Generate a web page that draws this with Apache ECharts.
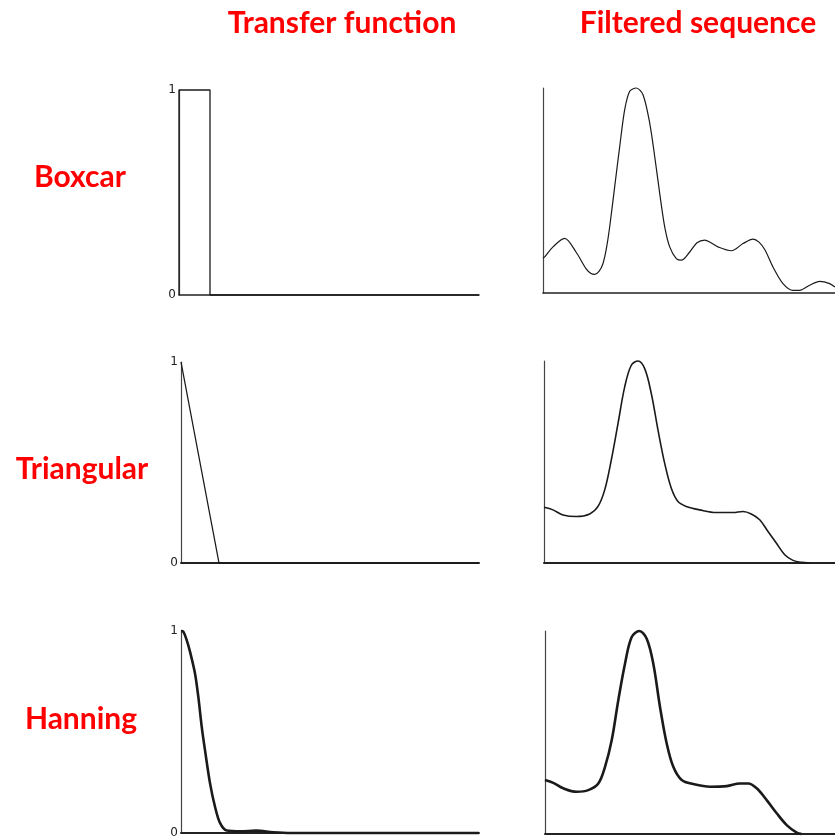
<!DOCTYPE html>
<html>
<head>
<meta charset="utf-8">
<script src="https://cdn.jsdelivr.net/npm/echarts@6/dist/echarts.min.js"></script>
<style>
html,body{margin:0;padding:0;background:#fff;}
#chart{width:835px;height:840px;}
</style>
</head>
<body>
<div id="chart"></div>
<script>
// Column and row headings
const columnTitles = ['Transfer function', 'Filtered sequence'];
const rowTitles = ['Boxcar', 'Triangular', 'Hanning'];
const yTickValues = [0, 1];

// Transfer functions: [frequency index, gain]
const boxcarTF = [[0,0],[0,1],[31,1],[31,0],[300,0]];
const triangularTF = [[0,1],[38,0],[298,0]];
const hanningTF = [[0,1],[2.3,0.997],[5.7,0.955],[9,0.898],[14,0.79],[17.3,0.675],[20.7,0.527],[24,0.41],[29,0.247],[34,0.13],[39,0.05],[45.7,0.012],[60,0.008],[75,0.012],[92,0.004],[110,0],[298,0]];

// Filtered sequences: [position, relative amplitude]
const boxcarSeq = [[0,0.17],[1.7,0.176],[10,0.225],[21.7,0.266],[33,0.2],[43,0.119],[48,0.095],[51.7,0.091],[56,0.105],[60,0.144],[63.5,0.22],[66.7,0.323],[71.7,0.519],[76.7,0.714],[81.7,0.894],[86.7,0.984],[93.3,1.0],[100,0.967],[106.7,0.829],[111.7,0.666],[116.7,0.486],[121.7,0.323],[126.7,0.225],[133.3,0.168],[138.3,0.16],[146.7,0.2],[154,0.245],[161.7,0.258],[168,0.245],[175,0.225],[188.3,0.206],[200,0.241],[210,0.263],[216,0.248],[222,0.21],[230,0.127],[240,0.046],[250,0.013],[256.7,0.013],[266.7,0.038],[276.7,0.057],[286.7,0.046],[292,0.029]];
const triangularSeq = [[0,0.276],[9,0.263],[19,0.238],[32.3,0.23],[45.7,0.243],[54,0.28],[60.7,0.362],[67.3,0.51],[74,0.69],[80.7,0.872],[87.3,0.979],[94,1.0],[100.7,0.962],[107.3,0.839],[114,0.658],[120.7,0.493],[127.3,0.37],[134,0.304],[142.3,0.28],[155.7,0.263],[172.3,0.25],[189,0.25],[199,0.255],[207.3,0.243],[215.7,0.214],[224,0.156],[232.3,0.099],[240.7,0.041],[249,0.013],[257.3,0.003],[265.7,0]];
const hanningSeq = [[0,0.266],[8.3,0.252],[18.3,0.225],[31.7,0.208],[43.3,0.216],[53.3,0.249],[60,0.331],[66.7,0.462],[73.3,0.659],[80,0.839],[86.7,0.97],[94.3,1.0],[101.7,0.962],[108.3,0.839],[115,0.626],[121.7,0.446],[128.3,0.331],[136.7,0.266],[148.3,0.246],[165,0.233],[181.7,0.236],[195,0.249],[203.3,0.249],[211.7,0.225],[221.7,0.167],[231.7,0.102],[241.7,0.044],[251.7,0.007],[256.7,0]];

const chart = echarts.init(document.getElementById('chart'), null, {renderer:'canvas'});

const grids = [
  {left:179, top:90, width:300, height:205},
  {left:181, top:362, width:298, height:201},
  {left:181, top:631, width:298, height:202},
  {left:543, top:88, width:295, height:205},
  {left:544, top:361, width:294, height:202},
  {left:545, top:631, width:293, height:203}
];
const xMax = [300, 298, 298, 292, 291, 290];
const lineW = [1.3, 1.3, 2.6, 1.2, 1.6, 2.6];
const seriesData = [boxcarTF, triangularTF, hanningTF, boxcarSeq, triangularSeq, hanningSeq];
const smoothSet = [false, false, 0.3, 0.3, 0.35, 0.35];

const xAxes = grids.map((g, i) => ({
  type:'value', gridIndex:i, min:0, max:xMax[i],
  axisLine:{show:true, onZero:false, lineStyle:{color:'#222', width:i===0||i===3?1.6:2}},
  axisTick:{show:false}, axisLabel:{show:false}, splitLine:{show:false}
}));
const yAxes = grids.map((g, i) => ({
  type:'value', gridIndex:i, min:0, max:1, interval:1,
  axisLine:{show:true, lineStyle:{color:'#444', width:1.2}},
  axisTick:{show:false},
  axisLabel:{show:i<3, margin:3, color:'#222', fontSize:12, fontFamily:'DejaVu Sans',
    formatter: v => (yTickValues.indexOf(v) >= 0 ? String(v) : '')},
  splitLine:{show:false}
}));
const series = seriesData.map((d, i) => ({
  type:'line', xAxisIndex:i, yAxisIndex:i, data:d, smooth:smoothSet[i],
  showSymbol:false, symbol:'none', clip:false,
  lineStyle:{color:'#1a1a1a', width:lineW[i]}, silent:true
}));

const titleStyle = {color:'#ff0000', fontWeight:'bold', fontSize:30, fontFamily:'Lato'};
const titles = [
  {text:columnTitles[0], left:337, top:3, textAlign:'center', textStyle:titleStyle},
  {text:columnTitles[1], left:693, top:3, textAlign:'center', textStyle:titleStyle},
  {text:rowTitles[0], left:75, top:157, textAlign:'center', textStyle:titleStyle},
  {text:rowTitles[1], left:77, top:449, textAlign:'center', textStyle:titleStyle},
  {text:rowTitles[2], left:76, top:699, textAlign:'center', textStyle:titleStyle}
];

chart.setOption({
  animation:false,
  backgroundColor:'#ffffff',
  title:titles,
  grid:grids,
  xAxis:xAxes,
  yAxis:yAxes,
  series:series
});
</script>
</body>
</html>
